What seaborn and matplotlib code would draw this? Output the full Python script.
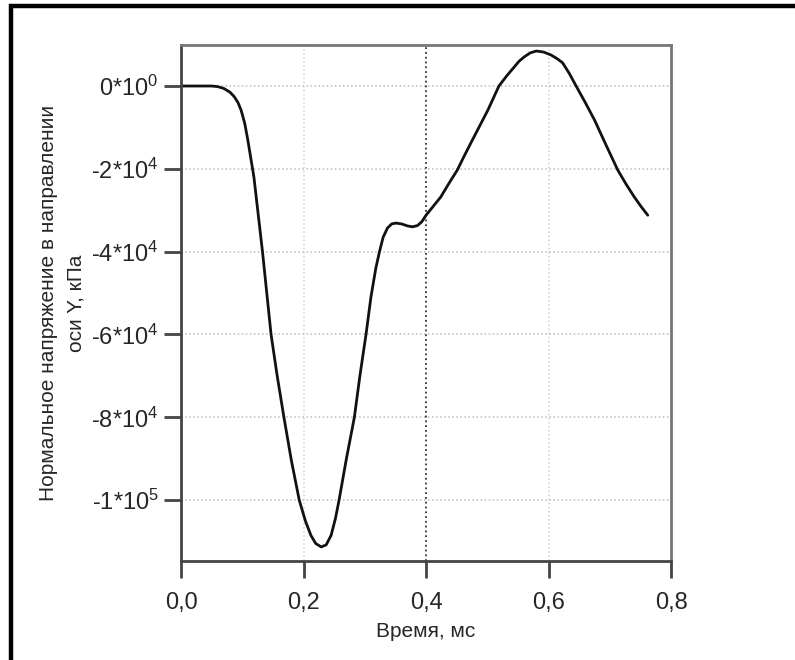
import numpy as np
import pandas as pd
import matplotlib.pyplot as plt
import matplotlib.patches as mpatches
import seaborn as sns

# время, мс
time_ms = [0.000, 0.030, 0.050, 0.060, 0.070, 0.080, 0.087, 0.093, 0.098, 0.104,
           0.109, 0.114, 0.119, 0.126, 0.133, 0.140, 0.147, 0.157, 0.168, 0.180,
           0.193, 0.203, 0.212, 0.220, 0.229, 0.237, 0.245, 0.252, 0.258, 0.270,
           0.283, 0.292, 0.302, 0.310, 0.318, 0.324, 0.330, 0.337, 0.344, 0.351,
           0.360, 0.370, 0.378, 0.386, 0.393, 0.400, 0.412, 0.424, 0.437, 0.451,
           0.462, 0.473, 0.487, 0.501, 0.510, 0.519, 0.532, 0.544, 0.552, 0.560,
           0.570, 0.580, 0.592, 0.604, 0.614, 0.623, 0.634, 0.645, 0.660, 0.675,
           0.694, 0.713, 0.727, 0.740, 0.751, 0.762]
# нормальное напряжение, кПа
stress_kpa = [0, 0, 0, -150, -600, -1500, -2600, -4000, -5800, -9000,
              -13000, -17500, -22000, -31000, -40000, -50000, -60000, -70000, -80000, -90300,
              -100000, -105000, -108500, -110500, -111300, -110800, -108500, -104500, -100000, -90000,
              -80000, -70000, -60000, -51000, -44000, -40000, -36500, -34300, -33300, -33100,
              -33300, -33800, -34000, -33700, -32800, -31200, -29000, -26800, -23600, -20300,
              -17000, -13800, -9800, -5800, -2900, 0, 2500, 4600, 6000, 7000,
              8000, 8450, 8200, 7500, 6600, 5600, 3000, 0, -4000, -8200,
              -14300, -20300, -23800, -26800, -29100, -31200]

x_ticks = [0.0, 0.2, 0.4, 0.6, 0.8]
x_tick_labels = ['0,0', '0,2', '0,4', '0,6', '0,8']
y_ticks = [0, -20000, -40000, -60000, -80000, -100000]
y_tick_labels = ['0*10$^{0}$', '-2*10$^{4}$', '-4*10$^{4}$', '-6*10$^{4}$',
                 '-8*10$^{4}$', '-1*10$^{5}$']
marker_time = 0.4

sns.set_style('white')
plt.rcParams['font.family'] = ['Liberation Sans', 'DejaVu Sans']
plt.rcParams['mathtext.default'] = 'regular'

df = pd.DataFrame({'t': time_ms, 's': stress_kpa})

fig = plt.figure(figsize=(7.95, 6.6), dpi=100)
ax = fig.add_axes([0.2277, 0.15, 0.6164, 0.7818])

ax.yaxis.grid(True, color='#bbbbbb', ls=':', lw=1.1)
for xv in [0.2, 0.6]:
    ax.axvline(xv, color='#d0d0d0', ls=':', lw=1.1, zorder=0)
ax.axvline(marker_time, color='#333333', ls=':', lw=1.3, zorder=1)

sns.lineplot(data=df, x='t', y='s', sort=False, color='#111111', lw=2, ax=ax)

ax.set_xlim(0, 0.8)
ax.set_ylim(-114700, 9900)
ax.set_xticks(x_ticks)
ax.set_xticklabels(x_tick_labels)
ax.set_yticks(y_ticks)
ax.set_yticklabels(y_tick_labels)
ax.tick_params(axis='both', which='major', direction='out', length=12, width=2,
               color='#444444', labelsize=17, bottom=True, left=True, pad=4)
ax.tick_params(axis='x', pad=10)

for side in ['left', 'bottom']:
    ax.spines[side].set_color('#444444')
    ax.spines[side].set_linewidth(2)
for side in ['top', 'right']:
    ax.spines[side].set_color('#777777')
    ax.spines[side].set_linewidth(2)

ax.set_xlabel('Время, мс', fontsize=15, labelpad=6)
ax.set_ylabel('Нормальное напряжение в направлении\nоси Y, кПа', fontsize=15,
              labelpad=4, linespacing=1.6)

frame = mpatches.Rectangle((11 / 795, -0.05), 1.1, 1 - 6 / 660 + 0.05,
                           transform=fig.transFigure, fill=False,
                           edgecolor='black', lw=3.2, zorder=10)
fig.patches.append(frame)

fig.savefig('out.png', dpi=100)
